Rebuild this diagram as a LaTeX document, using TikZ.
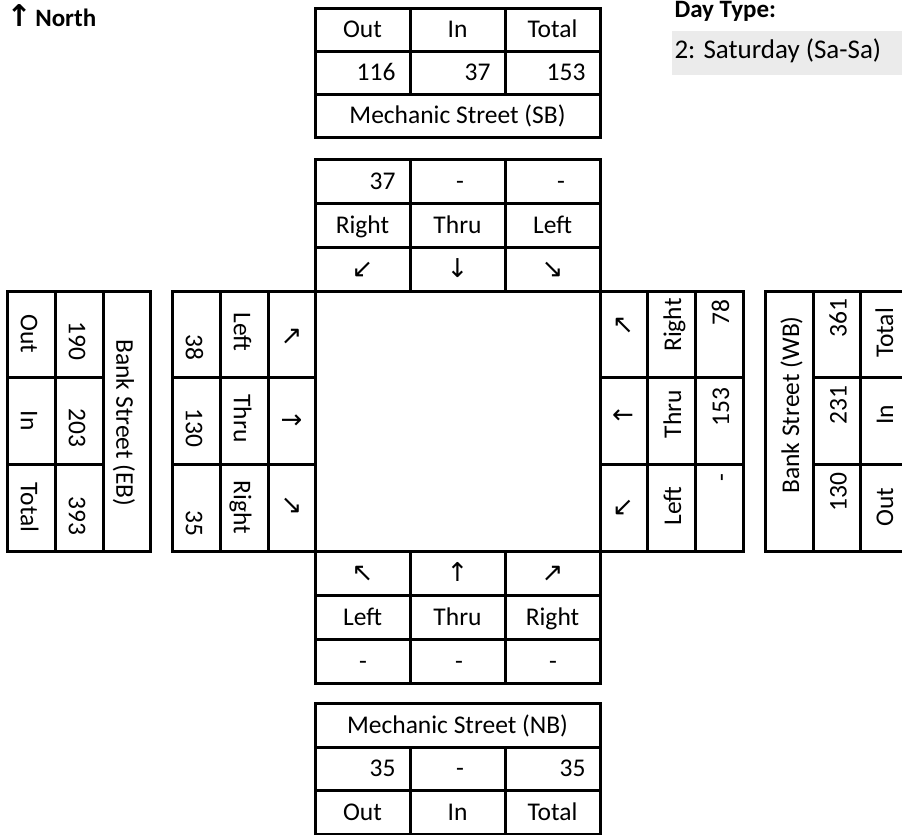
\documentclass[tikz,border=0pt]{standalone}
\usepackage{fontspec}
\setmainfont{Carlito}
\newfontfamily\arrowfont{DejaVu Sans}
\usepackage{xcolor}
\usepackage{tikz}
\definecolor{dayfill}{RGB}{235,235,235}

\begin{document}
\begin{tikzpicture}[x=1pt,y=-1pt,line width=3pt,font=\fontsize{25.5}{30}\selectfont,
  txt/.style={inner sep=0pt,text height=16.4pt,text depth=0pt},
  num/.style={txt,anchor=east},
  dnw/.style={txt,rotate=-90},
  upw/.style={txt,rotate=90},
  arr/.style={txt,font=\fontsize{26}{30}\selectfont\arrowfont}]
\clip (0,0) rectangle (902,835);
% heading
\node[anchor=base west,inner sep=0pt,font=\fontsize{25}{30}\selectfont\bfseries] (north) at (5,27) {{\fontsize{30}{30}\selectfont\arrowfont ↑}\kern-2pt~North};
\node[anchor=base west,inner sep=0pt,font=\fontsize{25}{30}\selectfont\bfseries] (dayLbl) at (673,17) {Day Type:};
\node[fill=dayfill,anchor=north west,minimum width=232pt,minimum height=44pt,inner sep=0pt] (dayBox) at (670,29) {};
\node[anchor=base west,inner sep=0pt,font=\fontsize{27}{30}\selectfont] (dayTxt) at (673,58) {2: Saturday (Sa-Sa)};
% Mechanic Street (SB)
\draw (315,8) rectangle (600,137);
\foreach \y in {51,94} \draw (315,\y) -- (600,\y);
\foreach \x in {410,505} \draw (\x,8) -- (\x,94);
\foreach \t/\x [count=\i] in {Out/362.5,In/457.5,Total/552.5} \node[txt] (sbh\i) at (\x,29.5) {\t};
\foreach \t/\x [count=\i] in {116/397,37/492,153/587} \node[num] (sbv\i) at (\x,72.5) {\t};
\node[txt] (sbName) at (457.5,115.5) {Mechanic Street (SB)};
% southbound approach
\draw (315,159) rectangle (600,291);
\foreach \y in {203,247} \draw (315,\y) -- (600,\y);
\foreach \x in {410,505} \draw (\x,159) -- (\x,291);
\node[num] (sbRv) at (397,181) {37};
\node[txt] (sbTv) at (460,181) {-};
\node[txt] (sbLv) at (561,181) {-};
\foreach \t/\x [count=\i] in {Right/362.5,Thru/457.5,Left/552.5} \node[txt] (sbm\i) at (\x,225) {\t};
\foreach \t/\x [count=\i] in {↙/362.5,↓/457.5,↘/552.5} \node[arr] (sba\i) at (\x,269) {\t};
% intersection
\draw (315,291) rectangle (600,551);
% Bank Street (EB)
\draw (7,291) rectangle (150,551);
\foreach \x in {55,103} \draw (\x,291) -- (\x,551);
\foreach \y in {377,464} \draw (7,\y) -- (103,\y);
\foreach \t/\y [count=\i] in {Out/334,In/420.5,Total/507.5} \node[dnw] (ebh\i) at (29,\y) {\t};
\foreach \t/\y [count=\i] in {190/362,203/449,393/537} \node[dnw,anchor=east] (ebv\i) at (77,\y) {\t};
\node[dnw] (ebName) at (124.5,423) {Bank Street (EB)};
% eastbound approach
\draw (172,291) rectangle (315,551);
\foreach \x in {220,268} \draw (\x,291) -- (\x,551);
\foreach \y in {377,464} \draw (172,\y) -- (315,\y);
\foreach \t/\y [count=\i] in {38/362,130/449,35/538} \node[dnw,anchor=east] (ebav\i) at (194,\y) {\t};
\foreach \t/\y [count=\i] in {Left/332,Thru/418.5,Right/507.5} \node[dnw] (ebam\i) at (242,\y) {\t};
\foreach \t/\y [count=\i] in {↗/336,→/420,↘/505} \node[arr] (ebaa\i) at (291.5,\y) {\t};
% westbound approach
\draw (600,291) rectangle (743,551);
\foreach \x in {647,695} \draw (\x,291) -- (\x,551);
\foreach \y in {377,464} \draw (600,\y) -- (743,\y);
\foreach \t/\y [count=\i] in {↖/325,←/415,↙/507} \node[arr] (wbaa\i) at (623,\y) {\t};
\foreach \t/\y [count=\i] in {Right/325,Thru/414,Left/506} \node[upw] (wbam\i) at (673,\y) {\t};
\node[upw,anchor=east] (wbav1) at (721,298) {78};
\node[upw,anchor=east] (wbav2) at (721,386) {153};
\node[upw] (wbav3) at (721,478) {-};
% Bank Street (WB)
\draw (765,291) rectangle (910,551);
\foreach \x in {813,860} \draw (\x,291) -- (\x,551);
\foreach \y in {377,464} \draw (813,\y) -- (910,\y);
\node[upw] (wbName) at (791,405) {Bank Street (WB)};
\foreach \t/\y [count=\i] in {361/297,231/384,130/471} \node[upw,anchor=east] (wbv\i) at (838.5,\y) {\t};
\foreach \t/\y [count=\i] in {Total/333,In/415,Out/507} \node[upw] (wbh\i) at (885,\y) {\t};
% northbound approach
\draw (315,551) rectangle (600,683);
\foreach \y in {595,639} \draw (315,\y) -- (600,\y);
\foreach \x in {410,505} \draw (\x,551) -- (\x,683);
\foreach \t/\x [count=\i] in {↖/362.5,↑/457.5,↗/552.5} \node[arr] (nba\i) at (\x,573) {\t};
\foreach \t/\x [count=\i] in {Left/362.5,Thru/457.5,Right/552.5} \node[txt] (nbm\i) at (\x,617) {\t};
\foreach \x [count=\i] in {363,459,553} \node[txt] (nbv\i) at (\x,661) {-};
% Mechanic Street (NB)
\draw (315,703) rectangle (600,834);
\foreach \y in {747,790} \draw (315,\y) -- (600,\y);
\foreach \x in {410,505} \draw (\x,747) -- (\x,834);
\node[txt] (nbName) at (457.5,725) {Mechanic Street (NB)};
\node[num] (nbOutv) at (397,768.5) {35};
\node[txt] (nbInv) at (460,768.5) {-};
\node[num] (nbTotv) at (587,768.5) {35};
\foreach \t/\x [count=\i] in {Out/362.5,In/457.5,Total/552.5} \node[txt] (nbh\i) at (\x,812) {\t};
\end{tikzpicture}
\end{document}
